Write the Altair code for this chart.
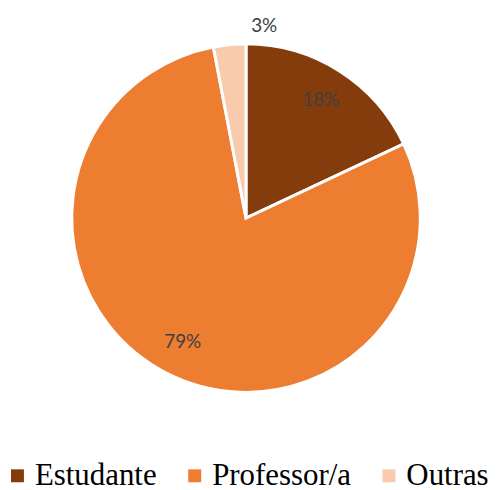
import altair as alt
import pandas as pd

categories = ["Estudante", "Professor/a", "Outras"]
values = [18, 79, 3]
labels = ["18%", "79%", "3%"]
colors = ["#843C0C", "#ED7D31", "#F8CBAD"]

df = pd.DataFrame({"cat": categories, "val": values, "lab": labels, "ord": [0, 1, 2]})

base = alt.Chart(df).encode(
    theta=alt.Theta("val:Q", stack=True),
    order=alt.Order("ord:Q"),
)

pie = base.mark_arc(outerRadius=175, stroke="white", strokeWidth=3).encode(
    x=alt.value(239), y=alt.value(210),
    color=alt.Color(
        "cat:N",
        scale=alt.Scale(domain=categories, range=colors),
        legend=alt.Legend(
            title=None, orient="none", direction="horizontal",
            legendX=-6, legendY=453,
            symbolType="square", symbolSize=169, symbolStrokeWidth=0,
            labelFont="Liberation Serif", labelFontSize=31, labelColor="#000000",
            columnPadding=22, labelOffset=2, symbolOffset=0,
        ),
    ),
)

inner = base.transform_filter(alt.datum.val >= 10).mark_text(
    radius=140, font="Lato", fontSize=19, color="#404040"
).encode(x=alt.value(239), y=alt.value(210), text="lab:N")

outer = base.transform_filter(alt.datum.val < 10).mark_text(
    radius=194, font="Lato", fontSize=19, color="#404040"
).encode(x=alt.value(239), y=alt.value(210), text="lab:N")

chart = alt.layer(pie, inner, outer).properties(
    width=483, height=482, padding=0, autosize=alt.AutoSizeParams(type="none")
).configure_view(stroke=None)

chart.save("out.html", embed_options={"renderer": "svg", "actions": False})
